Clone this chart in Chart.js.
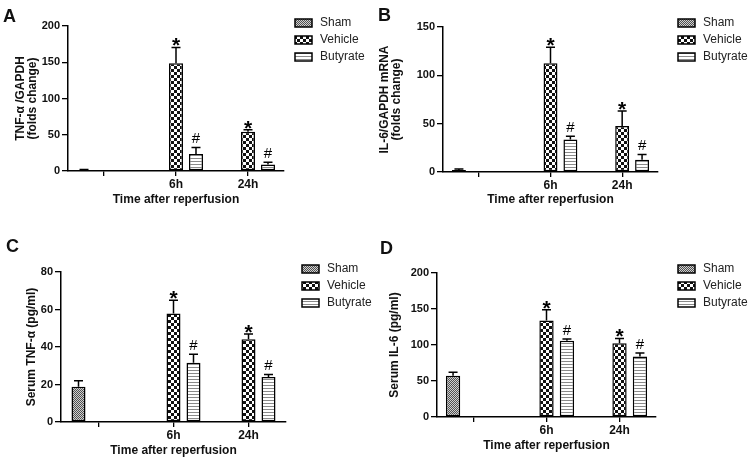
<!DOCTYPE html>
<html>
<head>
<meta charset="utf-8">
<script src="https://cdn.jsdelivr.net/npm/chart.js@4.4.1/dist/chart.umd.min.js"></script>
<style>
  html, body { margin: 0; padding: 0; background: #fff; }
  #wrap { position: relative; width: 750px; height: 461px; }
  canvas { position: absolute; }
</style>
</head>
<body>
<div id="wrap">
  <canvas id="panelA" width="375" height="230" style="left:0;top:0"></canvas>
  <canvas id="panelB" width="375" height="230" style="left:375px;top:0"></canvas>
  <canvas id="panelC" width="375" height="231" style="left:0;top:230px"></canvas>
  <canvas id="panelD" width="375" height="231" style="left:375px;top:230px"></canvas>
</div>
<script>
// groups on the x axis (first group only holds the sham bar)
const groups = ["", "6h", "24h"];
const seriesNames = ["Sham", "Vehicle", "Butyrate"];
const vehicleMarks = [null, "*", "*"];
const butyrateMarks = [null, "#", "#"];

// A: TNF-a / GAPDH mRNA (folds change)
const tnfMrnaSham = [1.5, null, null];
const tnfMrnaShamErr = [0.7, null, null];
const tnfMrnaVehicle = [null, 148.5, 54];
const tnfMrnaVehicleErr = [null, 22, 3];
const tnfMrnaButyrate = [null, 23.5, 9];
const tnfMrnaButyrateErr = [null, 9, 3];

// B: IL-6 / GAPDH mRNA (folds change)
const il6MrnaSham = [2, null, null];
const il6MrnaShamErr = [1, null, null];
const il6MrnaVehicle = [null, 112.5, 47.7];
const il6MrnaVehicleErr = [null, 16.5, 15.4];
const il6MrnaButyrate = [null, 33.5, 12.8];
const il6MrnaButyrateErr = [null, 3.5, 5.4];

// C: serum TNF-a (pg/ml)
const tnfSerumSham = [18.8, null, null];
const tnfSerumShamErr = [3.2, null, null];
const tnfSerumVehicle = [null, 57.9, 44.2];
const tnfSerumVehicleErr = [null, 7.1, 2.7];
const tnfSerumButyrate = [null, 31.6, 24];
const tnfSerumButyrateErr = [null, 4.6, 1.4];

// D: serum IL-6 (pg/ml)
const il6SerumSham = [57.4, null, null];
const il6SerumShamErr = [4.6, null, null];
const il6SerumVehicle = [null, 134.2, 102.3];
const il6SerumVehicleErr = [null, 14.8, 6.9];
const il6SerumButyrate = [null, 106, 84.2];
const il6SerumButyrateErr = [null, 2.3, 4.7];

const FONT = 'Arial, "Liberation Sans", sans-serif';

// fill patterns like the GraphPad bars
function makePattern(size, drawTile) {
  const c = document.createElement("canvas");
  c.width = size[0];
  c.height = size[1];
  const g = c.getContext("2d");
  drawTile(g);
  return g.createPattern(c, "repeat");
}

const shamFill = makePattern([2, 2], (g) => {
  g.fillStyle = "#d0d0d0";
  g.fillRect(0, 0, 2, 2);
  g.fillStyle = "#505050";
  g.fillRect(0, 0, 1, 1);
  g.fillRect(1, 1, 1, 1);
});
const vehicleFill = makePattern([6, 6], (g) => {
  g.fillStyle = "#fff";
  g.fillRect(0, 0, 6, 6);
  g.fillStyle = "#111";
  g.fillRect(0, 0, 3, 3);
  g.fillRect(3, 3, 3, 3);
});
const butyrateFill = makePattern([4, 3], (g) => {
  g.fillStyle = "#fff";
  g.fillRect(0, 0, 4, 3);
  g.fillStyle = "#8a8a8a";
  g.fillRect(0, 2, 4, 1);
});
const fills = [shamFill, vehicleFill, butyrateFill];

// error bars, * / # marks, panel letter and legend
const extrasPlugin = {
  id: "extras",
  afterDatasetsDraw(chart) {
    const ctx = chart.ctx;
    const yScale = chart.scales.y;
    ctx.save();
    chart.data.datasets.forEach((ds, i) => {
      const meta = chart.getDatasetMeta(i);
      meta.data.forEach((bar, j) => {
        const v = ds.data[j];
        if (v == null) return;
        const top = yScale.getPixelForValue(v + ds.errors[j]);
        ctx.strokeStyle = "#000";
        ctx.lineWidth = 1.5;
        ctx.beginPath();
        ctx.moveTo(bar.x, bar.y);
        ctx.lineTo(bar.x, top);
        ctx.moveTo(bar.x - 4.5, top);
        ctx.lineTo(bar.x + 4.5, top);
        ctx.stroke();

        const mark = ds.marks[j];
        if (!mark) return;
        ctx.fillStyle = "#000";
        ctx.textAlign = "center";
        ctx.textBaseline = "alphabetic";
        if (mark === "*") {
          ctx.font = "bold 21px " + FONT;
          ctx.fillText(mark, bar.x, top + 5);
        } else {
          ctx.font = "15px " + FONT;
          ctx.fillText(mark, bar.x, top - 4);
        }
      });
    });
    ctx.restore();
  },
  afterDraw(chart, args, opts) {
    const ctx = chart.ctx;
    ctx.save();
    ctx.fillStyle = "#111";
    ctx.font = "bold 18px " + FONT;
    ctx.textAlign = "left";
    ctx.textBaseline = "alphabetic";
    ctx.fillText(opts.letter, opts.letterX, opts.letterY);

    ctx.font = "12px " + FONT;
    ctx.textBaseline = "middle";
    seriesNames.forEach((name, k) => {
      const cy = opts.legendY + k * 17;
      ctx.fillStyle = fills[k];
      ctx.fillRect(opts.legendX, cy - 4, 17, 8);
      ctx.strokeStyle = "#000";
      ctx.lineWidth = 1.5;
      ctx.strokeRect(opts.legendX, cy - 4, 17, 8);
      ctx.fillStyle = "#222";
      ctx.fillText(name, opts.legendX + 25, cy);
    });
    ctx.restore();
  },
};

function makePanel(id, p) {
  const canvas = document.getElementById(id);
  const W = canvas.width;
  const H = canvas.height;
  const bar = {
    borderColor: "#000",
    borderWidth: 1.5,
    borderSkipped: false,
    categoryPercentage: p.catPct,
    barPercentage: 0.7,
  };
  return new Chart(canvas.getContext("2d"), {
    type: "bar",
    data: {
      labels: groups,
      datasets: [
        { ...bar, label: seriesNames[0], data: p.sham, errors: p.shamErr, marks: [null, null, null], backgroundColor: shamFill },
        { ...bar, label: seriesNames[1], data: p.vehicle, errors: p.vehicleErr, marks: vehicleMarks, backgroundColor: vehicleFill },
        { ...bar, label: seriesNames[2], data: p.butyrate, errors: p.butyrateErr, marks: butyrateMarks, backgroundColor: butyrateFill },
      ],
    },
    options: {
      responsive: false,
      animation: false,
      layout: { padding: { left: 0, top: p.area.top, right: W - p.area.right, bottom: 0 } },
      plugins: {
        legend: { display: false },
        tooltip: { enabled: false },
        extras: { letter: p.letter, letterX: p.letterX, letterY: p.letterY, legendX: p.legendX, legendY: p.legendY },
      },
      scales: {
        x: {
          grid: { drawOnChartArea: false, drawTicks: true, tickLength: 5, color: "#000", lineWidth: 1.3, offset: false },
          border: { display: true, color: "#000", width: 1.5 },
          ticks: { color: "#111", padding: 1, font: { family: FONT, size: 12, weight: "bold" } },
          title: {
            display: true,
            text: "Time after reperfusion",
            color: "#111",
            font: { family: FONT, size: 12, weight: "bold", lineHeight: 1 },
            padding: { top: 0, bottom: p.xTitlePad },
          },
          afterFit(scale) {
            scale.height = H - p.area.bottom;
          },
        },
        y: {
          min: 0,
          max: p.yMax,
          grid: { drawOnChartArea: false, drawTicks: true, tickLength: 6, color: "#000", lineWidth: 1.3 },
          border: { display: true, color: "#000", width: 1.5 },
          ticks: { stepSize: p.yStep, color: "#111", padding: 2, font: { family: FONT, size: 11, weight: "bold" } },
          title: {
            display: true,
            text: p.yTitle,
            color: "#111",
            font: { family: FONT, size: 12, weight: "bold", lineHeight: 1 },
            padding: { top: p.yTitlePad, bottom: 0 },
          },
          afterFit(scale) {
            scale.width = p.area.left;
          },
        },
      },
    },
    plugins: [extrasPlugin],
  });
}

makePanel("panelA", {
  sham: tnfMrnaSham, shamErr: tnfMrnaShamErr,
  vehicle: tnfMrnaVehicle, vehicleErr: tnfMrnaVehicleErr,
  butyrate: tnfMrnaButyrate, butyrateErr: tnfMrnaButyrateErr,
  area: { left: 68, right: 284, top: 26, bottom: 171 },
  yMax: 200, yStep: 50,
  yTitle: ["TNF-α /GAPDH", "(folds change)"], yTitlePad: 15,
  xTitlePad: 24, catPct: 0.833,
  letter: "A", letterX: 3, letterY: 22, legendX: 295, legendY: 23,
});

makePanel("panelB", {
  sham: il6MrnaSham, shamErr: il6MrnaShamErr,
  vehicle: il6MrnaVehicle, vehicleErr: il6MrnaVehicleErr,
  butyrate: il6MrnaButyrate, butyrateErr: il6MrnaButyrateErr,
  area: { left: 68, right: 283, top: 27, bottom: 172 },
  yMax: 150, yStep: 50,
  yTitle: ["IL-6/GAPDH mRNA", "(folds change)"], yTitlePad: 4,
  xTitlePad: 24, catPct: 0.833,
  letter: "B", letterX: 3, letterY: 21, legendX: 303, legendY: 23,
});

makePanel("panelC", {
  sham: tnfSerumSham, shamErr: tnfSerumShamErr,
  vehicle: tnfSerumVehicle, vehicleErr: tnfSerumVehicleErr,
  butyrate: tnfSerumButyrate, butyrateErr: tnfSerumButyrateErr,
  area: { left: 61, right: 286, top: 42, bottom: 192 },
  yMax: 80, yStep: 20,
  yTitle: "Serum TNF-α (pg/ml)", yTitlePad: 26,
  xTitlePad: 4, catPct: 0.8,
  letter: "C", letterX: 6, letterY: 22, legendX: 302, legendY: 39,
});

makePanel("panelD", {
  sham: il6SerumSham, shamErr: il6SerumShamErr,
  vehicle: il6SerumVehicle, vehicleErr: il6SerumVehicleErr,
  butyrate: il6SerumButyrate, butyrateErr: il6SerumButyrateErr,
  area: { left: 62, right: 281, top: 43, bottom: 187 },
  yMax: 200, yStep: 50,
  yTitle: "Serum IL-6 (pg/ml)", yTitlePad: 14,
  xTitlePad: 9, catPct: 0.84,
  letter: "D", letterX: 5, letterY: 24, legendX: 303, legendY: 39,
});
</script>
</body>
</html>
